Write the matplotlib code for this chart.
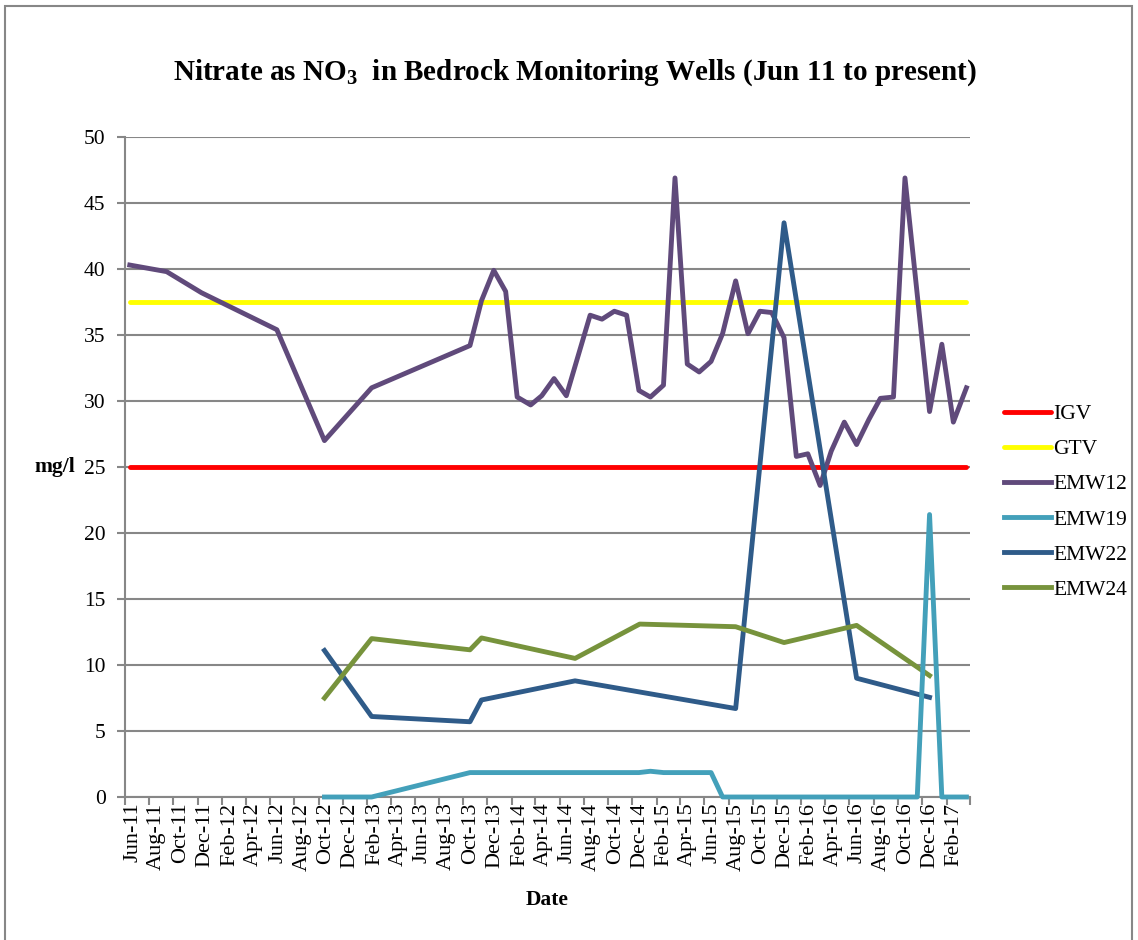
import numpy as np
import pandas as pd
import matplotlib
matplotlib.use("Agg")
import matplotlib.pyplot as plt
import matplotlib.dates as mdates
from matplotlib.patches import Rectangle

# guideline values (mg/l)
igv_value = 25.0
gtv_value = 37.5
guide_dates = ["2011-06-13", "2017-03-23"]

emw12_dates = ["2011-06-13", "2011-09-14", "2011-12-11", "2012-06-18", "2012-10-16",
               "2013-02-12", "2013-10-18", "2013-11-16", "2013-12-17", "2014-01-16",
               "2014-02-14", "2014-03-20", "2014-04-17", "2014-05-18", "2014-06-18",
               "2014-08-17", "2014-09-16", "2014-10-17", "2014-11-17", "2014-12-18",
               "2015-01-16", "2015-02-18", "2015-03-19", "2015-04-19", "2015-05-19",
               "2015-06-18", "2015-07-17", "2015-08-19", "2015-09-19", "2015-10-19",
               "2015-11-18", "2015-12-19", "2016-01-19", "2016-02-17", "2016-03-19",
               "2016-04-16", "2016-05-19", "2016-06-19", "2016-07-20", "2016-08-18",
               "2016-09-20", "2016-10-19", "2016-12-20", "2017-01-20", "2017-02-18",
               "2017-03-23"]
emw12 = [40.3, 39.8, 38.2, 35.4, 27.0,
         31.0, 34.2, 37.6, 39.9, 38.3,
         30.3, 29.7, 30.4, 31.7, 30.4,
         36.5, 36.2, 36.8, 36.5, 30.8,
         30.3, 31.2, 46.9, 32.8, 32.2,
         33.0, 35.1, 39.1, 35.1, 36.8,
         36.7, 34.8, 25.8, 26.0, 23.6,
         26.2, 28.4, 26.7, 28.6, 30.2,
         30.3, 46.9, 29.2, 34.3, 28.4,
         31.0]

emw19_dates = ["2012-10-16", "2013-02-12", "2013-10-18", "2014-12-18", "2015-01-16",
               "2015-02-18", "2015-06-18", "2015-07-17", "2016-11-19", "2016-12-20",
               "2017-01-20", "2017-03-23"]
emw19 = [0.0, 0.0, 1.85, 1.85, 1.95,
         1.85, 1.85, 0.0, 0.0, 21.4,
         0.0, 0.0]

emw22_dates = ["2012-10-16", "2013-02-12", "2013-10-18", "2013-11-16", "2014-07-10",
               "2015-08-19", "2015-12-19", "2016-06-19", "2016-12-20"]
emw22 = [11.1, 6.1, 5.7, 7.35, 8.8,
         6.7, 43.5, 9.0, 7.55]

emw24_dates = ["2012-10-16", "2013-02-12", "2013-10-18", "2013-11-16", "2014-07-10",
               "2014-12-20", "2015-08-19", "2015-12-19", "2016-06-19", "2016-12-20"]
emw24 = [7.5, 12.0, 11.15, 12.05, 10.5,
         13.1, 12.9, 11.7, 13.0, 9.2]

plt.rcParams["font.family"] = ["Liberation Serif", "DejaVu Serif"]
plt.rcParams["mathtext.fontset"] = "custom"
plt.rcParams["mathtext.rm"] = "Liberation Serif:bold"
plt.rcParams["mathtext.bf"] = "Liberation Serif:bold"

fig = plt.figure(figsize=(11.38, 9.40), dpi=100)
ax = fig.add_axes([125 / 1138, 1 - 797 / 940, 845 / 1138, 660 / 940])

lw = 3.5
gd = pd.to_datetime(guide_dates)
ax.plot(gd, [igv_value] * 2, color="#FF0000", lw=lw, label="IGV", solid_capstyle="round")
ax.plot(gd, [gtv_value] * 2, color="#FFFF00", lw=lw, label="GTV", solid_capstyle="round")
ax.plot(pd.to_datetime(emw12_dates), emw12, color="#604A7B", lw=lw, label="EMW12")
ax.plot(pd.to_datetime(emw19_dates), emw19, color="#43A0BA", lw=lw, label="EMW19",
        zorder=3, clip_on=False)
ax.plot(pd.to_datetime(emw22_dates), emw22, color="#2F5B89", lw=lw, label="EMW22")
ax.plot(pd.to_datetime(emw24_dates), emw24, color="#77933C", lw=lw, label="EMW24")

ax.set_xlim(pd.Timestamp("2011-06-01"), pd.Timestamp("2017-04-01"))
ax.set_ylim(0, 50)
ax.set_yticks(np.arange(0, 51, 5))
ax.grid(axis="y", color="#878787", lw=1.5)
ax.set_axisbelow(True)

ax.xaxis.set_major_locator(mdates.MonthLocator(bymonth=[2, 4, 6, 8, 10, 12]))
ax.xaxis.set_major_formatter(plt.NullFormatter())
ax.xaxis.set_minor_locator(mdates.MonthLocator(bymonth=[2, 4, 6, 8, 10, 12], bymonthday=20))
ax.xaxis.set_minor_formatter(mdates.DateFormatter("%b-%y"))
ax.tick_params(axis="x", which="minor", length=0, labelsize=16, rotation=90, pad=4)
ax.tick_params(axis="x", which="major", length=6, width=1.5, color="#878787")
ax.tick_params(axis="y", length=6, width=1.5, color="#878787", labelsize=15.5, pad=8)

for s in ["top", "right"]:
    ax.spines[s].set_visible(False)
for s in ["left", "bottom"]:
    ax.spines[s].set_color("#878787")
    ax.spines[s].set_linewidth(1.5)

ax.set_xlabel("Date", fontsize=15.5, fontweight="bold", labelpad=14)
fig.text(55 / 1138, 1 - 467 / 940, "mg/l", fontsize=15.5, fontweight="bold",
         ha="center", va="center")

fig.text(575 / 1138, 1 - 73 / 940,
         r"Nitrate as NO$_{\mathbf{3}}$  in Bedrock Monitoring Wells (Jun 11 to present)",
         fontsize=21, fontweight="bold", ha="center", va="center")

fig.legend(loc="center left", bbox_to_anchor=(995 / 1138, 1 - 502 / 940),
           frameon=False, fontsize=15.5, handlelength=2.2, handletextpad=0.1,
           labelspacing=0.7, borderaxespad=0)

fig.add_artist(Rectangle((5 / 1138, -0.01), 1127 / 1138, 1 - 6 / 940 + 0.01,
                         transform=fig.transFigure, fill=False,
                         edgecolor="#878787", lw=1.5))

fig.savefig("out.png", dpi=100)
